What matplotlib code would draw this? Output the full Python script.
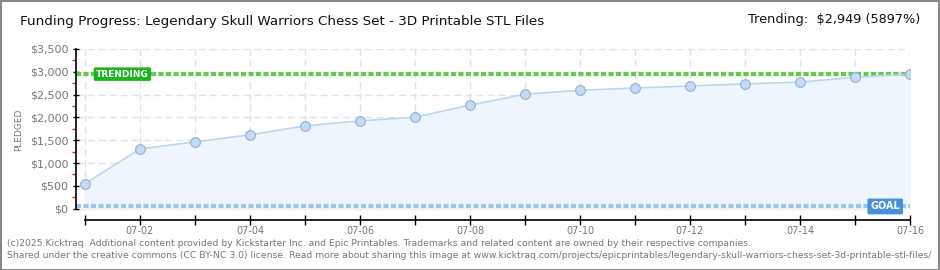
import numpy as np
import matplotlib
matplotlib.use('Agg')
import matplotlib.pyplot as plt
from matplotlib.patches import Rectangle

days = ['07-01', '07-02', '07-03', '07-04', '07-05', '07-06', '07-07', '07-08',
        '07-09', '07-10', '07-11', '07-12', '07-13', '07-14', '07-15', '07-16']
pledged = [550, 1310, 1465, 1620, 1815, 1925, 2005, 2270,
           2510, 2595, 2645, 2690, 2735, 2775, 2880, 2949]
goal = 50
trending = 2949
yticks = [0, 500, 1000, 1500, 2000, 2500, 3000, 3500]
ytick_labels = ['$0', '$500', '$1,000', '$1,500', '$2,000', '$2,500', '$3,000', '$3,500']

plt.rcParams['font.family'] = ['DejaVu Sans']

W, H = 940, 270
fig = plt.figure(figsize=(W / 100, H / 100), dpi=100, facecolor='w')
ax = fig.add_axes([76 / W, (H - 211) / H, (910 - 76) / W, (211 - 49) / H])

x = np.arange(len(days))
ax.fill_between(x, pledged, 0, color='#eef5fd', zorder=1)
ax.plot(x, pledged, color='#bcd6f2', lw=1.2, zorder=3)
ax.plot(x, pledged, 'o', ms=7, mfc='#c3dbf6', mec='#95aecb', mew=0.8, zorder=4)

# trending and goal lines
ax.axhline(trending, color='#62cc4a', lw=3, ls=(0, (1.2, 0.6)), zorder=2)
ax.axhline(goal, color='#9ec4ee', lw=3, ls=(0, (1.2, 0.6)), zorder=2)

ax.set_xlim(-9 / 55, 15)
ax.set_ylim(-50, 3500)
ax.grid(True, color='#e2e2e2', ls=(0, (5, 3)), lw=1, zorder=0)
ax.set_axisbelow(True)

ax.set_xticks(x)
ax.set_xticklabels([d if i % 2 == 1 else '' for i, d in enumerate(days)])
ax.set_yticks(yticks)
ax.set_yticklabels(ytick_labels)
ax.set_yticks(np.arange(250, 3500, 500), minor=True)
ax.tick_params(axis='y', which='major', direction='inout', length=5, width=1, pad=3,
               labelsize=8, labelcolor='#777777')
ax.tick_params(axis='y', which='minor', direction='out', length=3, width=1, color='#dd2222')
ax.tick_params(axis='x', direction='inout', length=7, width=1, pad=1,
               labelsize=7, labelcolor='#777777')

for s in ['top', 'right']:
    ax.spines[s].set_visible(False)
ax.spines['left'].set_bounds(0, 3500)
ax.spines['bottom'].set_bounds(0, 15)
ax.spines['bottom'].set_position(('outward', 6.5))
ax.spines['left'].set_linewidth(1.2)
ax.spines['bottom'].set_linewidth(1.2)

fig.text(19 / W, 1 - 130 / H, 'PLEDGED', fontsize=6.5, color='#777777', rotation=90,
         va='center', ha='center')

# labels on the lines
ax.text(0.2, trending, 'TRENDING', fontsize=6.5, color='white', fontweight='bold',
        va='center', ha='left', zorder=6,
        bbox=dict(boxstyle='round,pad=0.25,rounding_size=0.15', fc='#1db31d', ec='none'))
ax.text(14.82, goal, 'GOAL', fontsize=7, color='white', fontweight='bold',
        va='center', ha='right', zorder=6,
        bbox=dict(boxstyle='round,pad=0.3,rounding_size=0.15', fc='#4a8fdb', ec='none'))

# header and footer
fig.text(20 / W, 1 - 22 / H, 'Funding Progress: Legendary Skull Warriors Chess Set - 3D Printable STL Files',
         fontsize=9.7, color='#111111', va='center', ha='left')
fig.text(920 / W, 1 - 20 / H, 'Trending:  $2,949 (5897%)', fontsize=9.3, color='#111111',
         va='center', ha='right')
fig.text(7 / W, 1 - 243 / H,
         '(c)2025 Kicktraq. Additional content provided by Kickstarter Inc. and Epic Printables. '
         'Trademarks and related content are owned by their respective companies.',
         fontsize=6.7, color='#777777', va='center', ha='left')
fig.text(7 / W, 1 - 256 / H,
         'Shared under the creative commons (CC BY-NC 3.0) license. Read more about sharing this image at '
         'www.kicktraq.com/projects/epicprintables/legendary-skull-warriors-chess-set-3d-printable-stl-files/',
         fontsize=6.7, color='#777777', va='center', ha='left')

fig.patches.append(Rectangle((0.5 / W, 0.5 / H), 1 - 1.5 / W, 1 - 1.5 / H, transform=fig.transFigure,
                             fill=False, ec='#888888', lw=1.5))

fig.savefig('out.png', dpi=100, facecolor='w')
